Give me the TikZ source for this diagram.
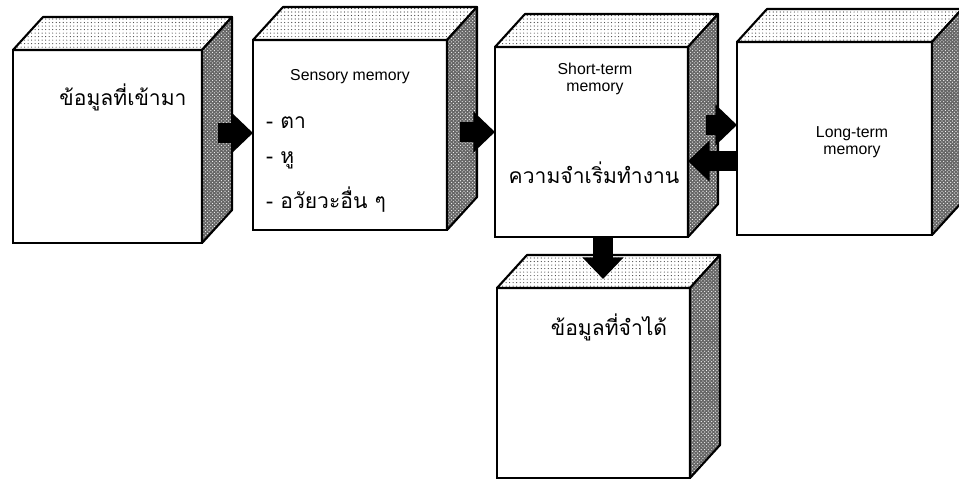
\documentclass[tikz,border=0pt]{standalone}
\usepackage{fontspec}
\setmainfont{Liberation Sans}
\newfontfamily\thai[Script=Thai]{Loma}
\usetikzlibrary{arrows.meta,patterns,calc}
\newcommand\drawcube[1]{%
  \fill[white] (#1.north west) -- ++(30,-33) -- ($(#1.north east)+(30,-33)$) -- (#1.north east) -- cycle;
  \fill[pattern=dots, pattern color=black!75] (#1.north west) -- ++(30,-33) -- ($(#1.north east)+(30,-33)$) -- (#1.north east) -- cycle;
  \draw[face] (#1.north west) -- ++(30,-33) -- ($(#1.north east)+(30,-33)$) -- (#1.north east) -- cycle;
  \fill[black!60] (#1.north east) -- ++(30,-33) -- ($(#1.south east)+(30,-33)$) -- (#1.south east) -- cycle;
  \fill[pattern=crosshatch dots, pattern color=white] (#1.north east) -- ++(30,-33) -- ($(#1.south east)+(30,-33)$) -- (#1.south east) -- cycle;
  \draw[face] (#1.north east) -- ++(30,-33) -- ($(#1.south east)+(30,-33)$) -- (#1.south east) -- cycle;
}
\begin{document}
\begin{tikzpicture}[x=0.03cm,y=-0.03cm,
  front/.style={draw, fill=white, line width=1.8pt, inner sep=0, outer sep=0, rectangle},
  face/.style={line width=1.8pt, line join=round},
  bigarrow/.style={line width=6mm, -{Triangle[length=6.5mm,width=12mm]}},
  eng/.style={font=\fontsize{13.5}{15}\selectfont, align=center, inner sep=0},
  th/.style={font=\thai\fontsize{18}{22}\selectfont, inner sep=0}]
\useasboundingbox (0,0) rectangle (959,483);
\fill[white] (0,0) rectangle (959,483);
% front faces
\node[front, minimum width=5.67cm, minimum height=5.79cm] (b1) at (107.5,146.5) {};
\node[front, minimum width=5.82cm, minimum height=5.70cm] (b2) at (350,135) {};
\node[front, minimum width=5.79cm, minimum height=5.70cm] (b3) at (591.5,142) {};
\node[front, minimum width=5.85cm, minimum height=5.79cm] (b4) at (834.5,138.5) {};
\node[front, minimum width=5.79cm, minimum height=5.70cm] (b5) at (593.5,383) {};
\drawcube{b1}
\drawcube{b2}
\drawcube{b3}
\drawcube{b4}
\drawcube{b5}
% arrows
\coordinate (a1) at (218,133);
\coordinate (a2) at (460,132);
\coordinate (a3) at (706,125);
\coordinate (a4) at (737,161);
\coordinate (a5) at (603,279);
\draw[bigarrow] (a1) -- (a1 -| b2.west);
\draw[bigarrow] (a2) -- (a2 -| b3.west);
\draw[bigarrow] (a3) -- (a3 -| b4.west);
\draw[bigarrow] (a4) -- (a4 -| b3.east);
\draw[bigarrow] (a5 |- b3.south) -- (a5);
% texts
\node[th] (t1) at (123,97) {ข้อมูลที่เข้ามา};
\node[eng] (t2) at (350,77) {Sensory memory};
\node[th, anchor=west] (t2a) at (266,123) {-\ ตา};
\node[th, anchor=west] (t2b) at (266,160) {-\ หู};
\node[th, anchor=west] (t2c) at (266,200) {-\ อวัยวะอื่น ๆ};
\node[eng] (t3) at (595,79) {Short-term\\memory};
\node[th] (t3b) at (594,173) {ความจำเริ่มทำงาน};
\node[eng] (t4) at (852,142) {Long-term\\memory};
\node[th] (t5) at (609,327) {ข้อมูลที่จำได้};
\end{tikzpicture}
\end{document}
